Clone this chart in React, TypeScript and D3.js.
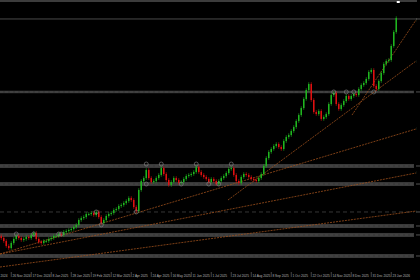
import React from "react";
import * as d3 from "d3";

// Daily-ish closes (XAUUSD), oldest -> newest
const closes: number[] = [
  2710, 2678, 2625, 2603, 2657, 2700, 2732, 2710, 2689, 2700,
  2721, 2710, 2742, 2764, 2700, 2668, 2657, 2678, 2678, 2700,
  2710, 2732, 2732, 2753, 2742, 2775, 2785, 2796, 2807, 2828,
  2850, 2903, 2924, 2935, 2967, 2967, 2978, 2956, 2989, 2935,
  2871, 2903, 2946, 2967, 2978, 3010, 3021, 3053, 3064, 3085,
  3106, 3138, 3117, 3042, 2999, 3224, 3320, 3352, 3438, 3352,
  3310, 3320, 3352, 3385, 3459, 3395, 3331, 3278, 3310, 3352,
  3331, 3299, 3310, 3342, 3374, 3385, 3395, 3417, 3470, 3417,
  3385, 3363, 3342, 3310, 3342, 3320, 3288, 3320, 3352, 3374,
  3406, 3449, 3459, 3385, 3320, 3299, 3363, 3395, 3385, 3363,
  3342, 3331, 3320, 3352, 3395, 3481, 3566, 3631, 3663, 3695,
  3716, 3684, 3663, 3748, 3791, 3812, 3855, 3898, 3962, 4026,
  4101, 4198, 4294, 4358, 4187, 4059, 4037, 4069, 3984, 4005,
  4037, 4144, 4240, 4262, 4144, 4091, 4133, 4176, 4230, 4198,
  4230, 4251, 4240, 4305, 4347, 4369, 4412, 4487, 4508, 4337,
  4305, 4390, 4476, 4572, 4604, 4615, 4765, 4915, 5064,
];
const firstOpen = 2730;

// Horizontal zones (price levels)
const zoneLevels: number[] = [4273, 3481, 3288, 2839, 2743, 2518];
const dashedLevel = 2989;
const thinLevel = 5054;
const topLevel = 5246;

// Trend lines: [startIndex, startPrice, endIndex, endPrice]
const trendLines: [number, number, number, number][] = [
  [140.3, 4026, 165.9, 5043],
  [90.7, 3117, 165.9, 4604],
  [-0.5, 2539, 165.9, 3877],
  [-0.5, 2539, 165.9, 3406],
  [-0.5, 2400, 165.9, 2999],
];

// Swing markers: [index, price]
const markers: [number, number][] = [
  [6, 2753], [13, 2753], [23, 2753], [24, 2753],
  [38, 2989], [40, 2850], [54, 2989],
  [58, 3502], [64, 3502], [78, 3502], [92, 3502],
  [58, 3288], [72, 3288], [83, 3288], [87, 3288],
  [133, 4273], [138, 4273], [141, 4273], [149, 4273],
];

// X axis labels: [index, text]
const tickIdx: number[] = [4, 12, 20, 28, 36, 44, 52, 60, 68, 76, 84, 92, 100, 108, 116, 124, 132, 140, 148, 156];
const tickText: string[] = [
  "26 Nov 2024", "17 Dec 2024", "8 Jan 2025", "28 Jan 2025",
  "19 Feb 2025", "12 Mar 2025", "2 Apr 2025", "24 Apr 2025", "16 May 2025",
  "11 Jun 2025", "1 Jul 2025", "23 Jul 2025", "14 Aug 2025", "8 Sep 2025",
  "1 Oct 2025", "22 Oct 2025", "14 Nov 2025", "8 Dec 2025", "31 Dec 2025",
  "23 Jan 2026",
];
const firstLabel = "2024";

const W = 420;
const H = 280;

export default function App() {
  const n = closes.length;
  const step = 2.5;
  const x = d3.scaleLinear().domain([0, n - 1]).range([1.25, 1.25 + step * (n - 1)]);
  const y = d3.scaleLinear().domain([2443, 5257]).range([263, 0]);

  const candles = closes.map((c, i) => {
    const o = i === 0 ? firstOpen : closes[i - 1];
    return { i, o, c };
  });

  const line = d3.line<[number, number]>().x((d) => x(d[0])).y((d) => y(d[1]));

  return (
    <svg width={W} height={H} style={{ position: "absolute", left: 0, top: 0, background: "#000" }}>
      <defs>
        <clipPath id="plot">
          <rect x={0} y={0} width={417} height={270} />
        </clipPath>
      </defs>
      <rect x={0} y={0} width={W} height={H} fill="#000" />
      <g clipPath="url(#plot)">
        <line x1={0} x2={W} y1={y(topLevel)} y2={y(topLevel)} stroke="#3c3c3c" strokeWidth={2} />
        <line x1={0} x2={W} y1={y(thinLevel)} y2={y(thinLevel)} stroke="#4a4a4a" strokeWidth={1} />
        {zoneLevels.map((p, k) => {
          const h = k === 0 ? 2.5 : 4;
          return (
            <g key={k}>
              <rect x={0} y={y(p) - h / 2} width={414} height={h} fill="#3a3a3a" />
              <line x1={0} x2={414} y1={y(p)} y2={y(p)} stroke="#4c4c4c" strokeWidth={0.8} strokeDasharray="3,2" />
            </g>
          );
        })}
        <line x1={0} x2={414} y1={y(dashedLevel)} y2={y(dashedLevel)} stroke="#444" strokeWidth={0.8} strokeDasharray="4,3" />
        {trendLines.map((t, k) => (
          <g key={k}>
            <path
              d={line([[t[0], t[1]], [t[2], t[3]]]) || ""}
              stroke="#9c4f1c"
              strokeWidth={0.8}
              strokeDasharray="2,1"
              fill="none"
            />
            <text x={x(t[2]) + 0.5} y={y(t[3]) + 1.5} fontSize={4} fill="#9c4f1c" fontFamily="Liberation Sans, Arial">
              Fb
            </text>
          </g>
        ))}
        {candles.map((d) => {
          const up = d.c >= d.o;
          const col = up ? "#1fb51f" : "#e01010";
          const top = y(Math.max(d.o, d.c));
          const bot = y(Math.min(d.o, d.c));
          const bh = Math.max(1, bot - top);
          return (
            <g key={d.i}>
              <line x1={x(d.i)} x2={x(d.i)} y1={top - 1.8} y2={bot + 1.8} stroke={col} strokeWidth={0.6} />
              <rect x={x(d.i) - 0.75} y={top} width={1.5} height={bh} fill={col} />
            </g>
          );
        })}
        {markers.map((m, k) => (
          <circle key={k} cx={x(m[0])} cy={y(m[1])} r={2} fill="none" stroke="#8a8a8a" strokeWidth={0.6} />
        ))}
      </g>
      {[...zoneLevels, dashedLevel, thinLevel].map((p, k) => (
        <line key={k} x1={416} x2={420} y1={y(p)} y2={y(p)} stroke="#777" strokeWidth={0.7} />
      ))}
      <rect x={x(n - 1) + 0.5} y={1} width={3} height={2} fill="#fff" />
      <text x={0.5} y={276.5} fontSize={3.2} fill="#b8b8b8" fontFamily="Liberation Sans, Arial">
        {firstLabel}
      </text>
      {tickIdx.map((ti, k) => (
        <g key={k}>
          <line x1={x(ti)} x2={x(ti)} y1={272} y2={277} stroke="#888" strokeWidth={0.5} />
          <text x={x(ti) + 1.2} y={276.5} fontSize={3.2} fill="#b8b8b8" fontFamily="Liberation Sans, Arial">
            {tickText[k]}
          </text>
        </g>
      ))}
    </svg>
  );
}
